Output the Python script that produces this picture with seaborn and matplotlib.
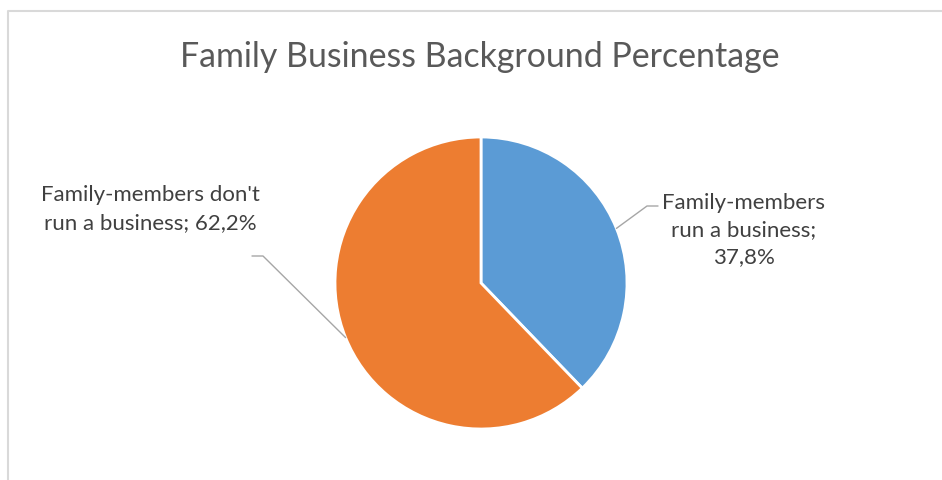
import numpy as np
import matplotlib
matplotlib.use("Agg")
import matplotlib.pyplot as plt
import seaborn as sns

categories = ["Family-members run a business", "Family-members don't run a business"]
values = [37.8, 62.2]
label_texts = ["Family-members\nrun a business;\n37,8%", "Family-members don't\nrun a business; 62,2%"]
title = "Family Business Background Percentage"
colors = ["#5B9BD5", "#ED7D31"]

sns.set_theme(style="white")
plt.rcParams['font.family'] = ['Lato', 'DejaVu Sans']

W, H = 942, 480
fig = plt.figure(figsize=(W / 100, H / 100), dpi=100)
ax = fig.add_axes([0, 0, 1, 1])
ax.set_xlim(0, W)
ax.set_ylim(0, H)
ax.set_aspect('equal')
ax.axis('off')

cx, cy, r = 481, H - 283, 146
wedges, _ = ax.pie(values, colors=colors, startangle=90, counterclock=False,
                   center=(cx, cy), radius=r, frame=True,
                   wedgeprops=dict(edgecolor='white', linewidth=2))
ax.set_xlim(0, W)
ax.set_ylim(0, H)
ax.axis('off')

# chart frame
ax.plot([8, 8, W + 5], [-5, H - 11, H - 11], color='#D9D9D9', lw=1.5, clip_on=False)

# title
ax.text(480, H - 57, title, ha='center', va='center', fontsize=24.4, color='#595959')

# leader lines + labels
line_col = '#A6A6A6'
txt_col = '#404040'
layout = [
    dict(elbow=(647, H - 206), end=(658, H - 206), text=(744, H - 230)),
    dict(elbow=(263, H - 256), end=(252, H - 256), text=(150, H - 209)),
]
for w, lay, txt in zip(wedges, layout, label_texts):
    ang = np.deg2rad((w.theta1 + w.theta2) / 2)
    sx, sy = cx + r * np.cos(ang), cy + r * np.sin(ang)
    ax.plot([sx, lay['elbow'][0], lay['end'][0]], [sy, lay['elbow'][1], lay['end'][1]],
            color=line_col, lw=1)
    ax.text(lay['text'][0], lay['text'][1], txt, ha='center', va='center',
            fontsize=16, color=txt_col, linespacing=1.45)

fig.savefig("out.png", dpi=100, facecolor='white')
